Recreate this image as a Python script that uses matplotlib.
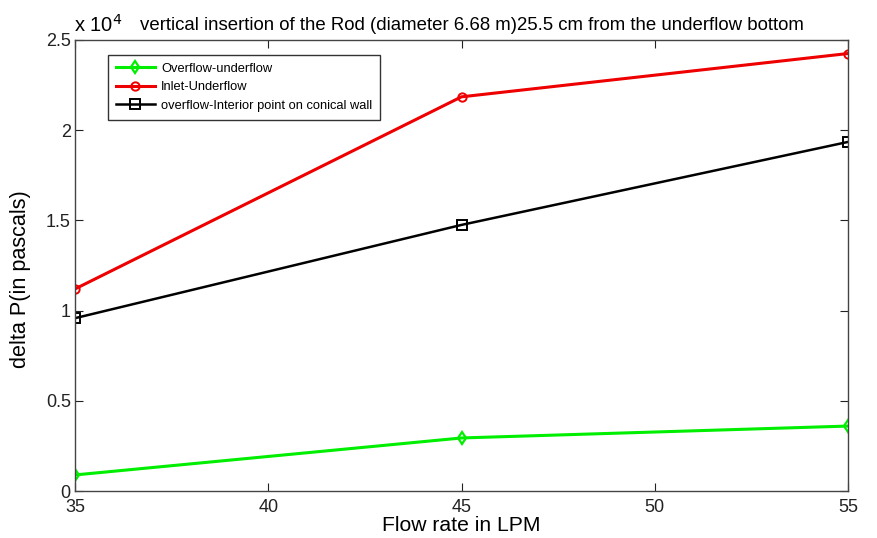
import matplotlib
matplotlib.use("Agg")
import matplotlib.pyplot as plt
from matplotlib.ticker import FuncFormatter

plt.rcParams['font.family'] = ['Liberation Sans', 'DejaVu Sans']

flow_rate = [35, 45, 55]
overflow_underflow = [890, 2940, 3600]
inlet_underflow = [11200, 21850, 24250]
overflow_interior = [9580, 14750, 19350]

x_ticks = [35, 40, 45, 50, 55]
y_ticks = [0, 5000, 10000, 15000, 20000, 25000]

fig = plt.figure(figsize=(8.77, 5.38), dpi=100)
ax = fig.add_axes([75 / 877, 1 - 491 / 538, (848 - 75) / 877, (491 - 40) / 538])

ax.plot(flow_rate, overflow_underflow, color='#00ee00', lw=2.2, marker='d',
        ms=6, mfc='none', mec='#00ee00', mew=1.6, label='Overflow-underflow')
ax.plot(flow_rate, inlet_underflow, color='#ee0000', lw=2.2, marker='o',
        ms=6, mfc='none', mec='#ee0000', mew=1.4, label='Inlet-Underflow')
ax.plot(flow_rate, overflow_interior, color='black', lw=1.8, marker='s',
        ms=7, mfc='none', mec='black', mew=1.4,
        label='overflow-Interior point on conical wall')

ax.set_xlim(35, 55)
ax.set_ylim(0, 25000)
ax.set_xticks(x_ticks)
ax.set_yticks(y_ticks)
ax.yaxis.set_major_formatter(FuncFormatter(lambda v, p: f"{v / 1e4:g}"))
ax.tick_params(direction='in', top=True, right=True, length=6, width=0.8,
               labelsize=13, pad=3, colors='#222222')
ax.tick_params(axis='x', pad=6)
for s in ax.spines.values():
    s.set_color('#444444')
    s.set_linewidth(1.0)

ax.set_xlabel('Flow rate in LPM', fontsize=15.2, labelpad=0)
ax.set_ylabel('delta P(in pascals)', fontsize=15.6)
ax.yaxis.set_label_coords(-44 / 773, 0.47)

fig.text(74 / 877, 1 - 32 / 538, r'x 10$^{4}$', fontsize=14.5, va='baseline', ha='left')
fig.text(140 / 877, 1 - 30 / 538,
         'vertical insertion of the Rod (diameter 6.68 m)25.5 cm from the underflow bottom',
         fontsize=13.45, va='baseline', ha='left')

leg = ax.legend(loc='upper left', bbox_to_anchor=(33 / 773, 1 - 15 / 451),
                borderaxespad=0, fontsize=9.3, frameon=True, fancybox=False,
                edgecolor='black', handlelength=3.0, handletextpad=0.5,
                borderpad=0.6, labelspacing=0.5)
leg.get_frame().set_linewidth(1.0)

fig.savefig('out.png', dpi=100)
